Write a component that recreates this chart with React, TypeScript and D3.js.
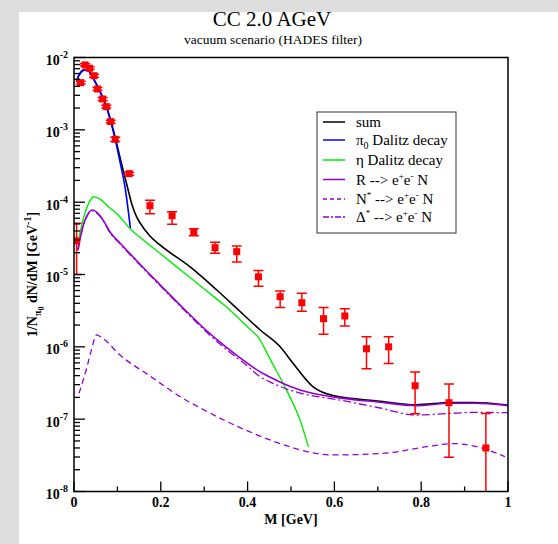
import React from "react";
import * as d3 from "d3";

// ---------- data ----------
const dataM = [0.006, 0.0154, 0.0253, 0.036, 0.046, 0.054, 0.066, 0.0745, 0.0845, 0.095, 0.127,
  0.175, 0.226, 0.276, 0.325, 0.375, 0.425, 0.475, 0.525, 0.575, 0.624, 0.674, 0.725, 0.786, 0.864, 0.949];
const dataV = [2.93e-5, 4.49e-3, 7.9e-3, 7.1e-3, 5.6e-3, 3.67e-3, 2.67e-3, 2.09e-3, 1.30e-3, 7.4e-4, 2.48e-4,
  8.93e-5, 6.5e-5, 3.9e-5, 2.35e-5, 2.07e-5, 9.3e-6, 4.93e-6, 4.07e-6, 2.45e-6, 2.67e-6, 9.4e-7, 1.0e-6, 2.9e-7, 1.69e-7, 4.0e-8];
const dataLo = [1.0e-5, 4.3e-3, 7.6e-3, 6.8e-3, 5.35e-3, 3.5e-3, 2.55e-3, 2.0e-3, 1.24e-3, 6.9e-4, 2.36e-4,
  6.9e-5, 4.94e-5, 3.44e-5, 1.96e-5, 1.49e-5, 6.9e-6, 3.5e-6, 3.1e-6, 1.49e-6, 1.94e-6, 4.99e-7, 5.9e-7, 1.19e-7, 2.97e-8, 5e-9];
const dataHi = [5.1e-5, 4.7e-3, 8.2e-3, 7.4e-3, 5.85e-3, 3.85e-3, 2.8e-3, 2.18e-3, 1.36e-3, 7.9e-4, 2.6e-4,
  1.06e-4, 7.4e-5, 4.3e-5, 2.79e-5, 2.48e-5, 1.14e-5, 5.9e-6, 5.5e-6, 3.5e-6, 3.37e-6, 1.38e-6, 1.38e-6, 4.5e-7, 3.06e-7, 1.2e-7];

const sumM = [0.006, 0.0115, 0.025, 0.0345, 0.046, 0.0576, 0.073, 0.0845, 0.096, 0.1075, 0.121, 0.133, 0.144, 0.152, 0.175, 0.198,
  0.267, 0.329, 0.379, 0.429, 0.475, 0.505, 0.551, 0.6, 0.62, 0.7, 0.789, 0.866, 0.92, 1.0];
const sumV = [4.6e-3, 5.7e-3, 6.8e-3, 6.5e-3, 5.0e-3, 3.65e-3, 2.28e-3, 1.36e-3, 7.4e-4, 3.8e-4, 1.82e-4, 9.5e-5, 6.3e-5, 5.2e-5, 3.4e-5, 2.56e-5,
  1.28e-5, 6.1e-6, 3.23e-6, 1.71e-6, 1.0e-6, 5.9e-7, 2.8e-7, 2.1e-7, 2.0e-7, 1.78e-7, 1.58e-7, 1.7e-7, 1.7e-7, 1.57e-7];

const pi0M = [0.006, 0.0115, 0.025, 0.0345, 0.046, 0.0576, 0.073, 0.0845, 0.096, 0.1075, 0.117, 0.13];
const pi0V = [4.6e-3, 5.7e-3, 6.7e-3, 6.4e-3, 4.9e-3, 3.56e-3, 2.21e-3, 1.3e-3, 6.9e-4, 3.27e-4, 1.7e-4, 4.33e-5];

const etaM = [0.0115, 0.025, 0.035, 0.046, 0.06, 0.08, 0.1, 0.131, 0.152, 0.2, 0.25, 0.3, 0.35, 0.4, 0.429, 0.45, 0.49, 0.521, 0.54];
const etaV = [3.3e-5, 7e-5, 1.0e-4, 1.19e-4, 1.1e-4, 8.6e-5, 6.8e-5, 4.2e-5, 3.27e-5, 1.92e-5, 1.1e-5, 6.3e-6, 3.6e-6, 1.88e-6, 1.24e-6, 7.1e-7, 2.5e-7, 9.7e-8, 4.16e-8];

const resM = [0.009, 0.02, 0.03, 0.042, 0.055, 0.07, 0.083, 0.106, 0.161, 0.2, 0.252, 0.302, 0.35, 0.4, 0.429, 0.45, 0.5, 0.521, 0.62, 0.7, 0.789, 0.866, 0.92, 1.0];
const resV = [2.18e-5, 4.5e-5, 6.5e-5, 7.8e-5, 7.0e-5, 5.3e-5, 3.87e-5, 2.73e-5, 1.22e-5, 7.05e-6, 3.41e-6, 1.75e-6, 9.95e-7, 5.9e-7, 4.5e-7, 3.85e-7, 2.8e-7, 2.53e-7, 1.94e-7, 1.73e-7, 1.54e-7, 1.66e-7, 1.66e-7, 1.54e-7];

const nstM = [0.0115, 0.03, 0.04, 0.052, 0.065, 0.106, 0.175, 0.25, 0.3, 0.35, 0.4, 0.45, 0.5, 0.521, 0.597, 0.713, 0.813, 0.874, 0.928, 0.993];
const nstV = [2.28e-7, 5.26e-7, 9.0e-7, 1.46e-6, 1.33e-6, 7.7e-7, 3.95e-7, 1.96e-7, 1.34e-7, 9.4e-8, 6.9e-8, 5.2e-8, 4.1e-8, 3.75e-8, 3.2e-8, 3.37e-8, 4.16e-8, 4.6e-8, 4.16e-8, 3.03e-8];

const delM = [0.009, 0.02, 0.03, 0.042, 0.055, 0.07, 0.083, 0.106, 0.161, 0.2, 0.252, 0.302, 0.35, 0.4, 0.429, 0.45, 0.5, 0.521, 0.62, 0.7, 0.789, 0.866, 0.92, 1.0];
const delV = [2.15e-5, 4.4e-5, 6.4e-5, 7.65e-5, 6.85e-5, 5.2e-5, 3.78e-5, 2.65e-5, 1.19e-5, 6.85e-6, 3.3e-6, 1.67e-6, 9.3e-7, 5.4e-7, 3.84e-7, 3.3e-7, 2.5e-7, 2.3e-7, 1.8e-7, 1.45e-7, 1.14e-7, 1.2e-7, 1.24e-7, 1.23e-7];

const xTicks = [0, 0.2, 0.4, 0.6, 0.8, 1];
const xTickLabels = ["0", "0.2", "0.4", "0.6", "0.8", "1"];
const yDecades = [-8, -7, -6, -5, -4, -3, -2];

const title = "CC 2.0 AGeV";
const subtitle = "vacuum scenario (HADES filter)";

// ---------- layout ----------
const W = 558, H = 544;
const L = 74, R = 508, T = 57.5, B = 491.5;
const serif = "Liberation Serif, DejaVu Serif, serif";
const purple = "#9400d3";

export default function App() {
  const x = d3.scaleLinear().domain([0, 1]).range([L, R]);
  const y = d3.scaleLog().domain([1e-8, 1e-2]).range([B, T]);

  const mk = (ms: number[], vs: number[]) =>
    d3.line<number>().x((_, i) => x(ms[i])).y((v) => y(v)).curve(d3.curveMonotoneX)(vs) || "";

  const curves = [
    { d: mk(sumM, sumV), color: "#000000", w: 1.6, dash: "" },
    { d: mk(pi0M, pi0V), color: "#0000ff", w: 1.6, dash: "" },
    { d: mk(etaM, etaV), color: "#00ee00", w: 1.4, dash: "" },
    { d: mk(resM, resV), color: purple, w: 1.6, dash: "" },
    { d: mk(nstM, nstV), color: purple, w: 1.3, dash: "6,4" },
    { d: mk(delM, delV), color: purple, w: 1.3, dash: "8,3,2,3" },
  ];

  const minorY: number[] = [];
  for (const k of yDecades) {
    if (k === -2) continue;
    for (let m = 2; m <= 9; m++) minorY.push(m * Math.pow(10, k));
  }
  const minorX = [0.1, 0.3, 0.5, 0.7, 0.9];

  const legend = [
    { color: "#000000", dash: "", label: <tspan>sum</tspan> },
    { color: "#0000ff", dash: "", label: <><tspan>π</tspan><tspan fontSize={10} dy={4}>0</tspan><tspan dy={-4}> Dalitz decay</tspan></> },
    { color: "#00ee00", dash: "", label: <tspan>η Dalitz decay</tspan> },
    { color: purple, dash: "", label: <><tspan>R --&gt; e</tspan><tspan fontSize={9} dy={-6}>+</tspan><tspan dy={6}>e</tspan><tspan fontSize={9} dy={-6}>-</tspan><tspan dy={6}> N</tspan></> },
    { color: purple, dash: "4,3", label: <><tspan>N</tspan><tspan fontSize={9} dy={-6}>*</tspan><tspan dy={6}> --&gt; e</tspan><tspan fontSize={9} dy={-6}>+</tspan><tspan dy={6}>e</tspan><tspan fontSize={9} dy={-6}>-</tspan><tspan dy={6}> N</tspan></> },
    { color: purple, dash: "6,2,2,2", label: <><tspan>Δ</tspan><tspan fontSize={9} dy={-6}>*</tspan><tspan dy={6}> --&gt; e</tspan><tspan fontSize={9} dy={-6}>+</tspan><tspan dy={6}>e</tspan><tspan fontSize={9} dy={-6}>-</tspan><tspan dy={6}> N</tspan></> },
  ];
  const legendY = [122, 140, 160, 179.5, 199, 217];

  return (
    <svg width={W} height={H} style={{ position: "absolute", left: 0, top: 0, fontFamily: serif }}>
      <rect x={0} y={0} width={W} height={H} fill="#dedede" />
      <rect x={19} y={12} width={W - 19} height={H - 12} fill="#ffffff" />
      <defs>
        <clipPath id="plotClip">
          <rect x={L} y={T} width={R - L} height={B - T} />
        </clipPath>
      </defs>

      <text x={272} y={26} textAnchor="middle" fontSize={21}>{title}</text>
      <text x={273} y={44} textAnchor="middle" fontSize={13.5}>{subtitle}</text>

      <g clipPath="url(#plotClip)">
        {curves.map((c, i) => (
          <path key={i} d={c.d} fill="none" stroke={c.color} strokeWidth={c.w} strokeDasharray={c.dash || undefined} />
        ))}
        {dataM.map((m, i) => {
          const cx = x(m);
          return (
            <g key={i} stroke="#ff0000" strokeWidth={1.5}>
              <line x1={cx} x2={cx} y1={y(dataLo[i])} y2={y(dataHi[i])} />
              <line x1={cx - 5} x2={cx + 5} y1={y(dataLo[i])} y2={y(dataLo[i])} />
              <line x1={cx - 5} x2={cx + 5} y1={y(dataHi[i])} y2={y(dataHi[i])} />
              <rect x={cx - 3.5} y={y(dataV[i]) - 3.5} width={7} height={7} fill="#ff0000" stroke="none" />
            </g>
          );
        })}
      </g>

      {/* ticks */}
      <g stroke="#000" strokeWidth={1.3}>
        {yDecades.map((k) => (
          <line key={"ym" + k} x1={L} x2={L + 11} y1={y(Math.pow(10, k))} y2={y(Math.pow(10, k))} />
        ))}
        {minorY.map((v, i) => (
          <line key={"yn" + i} x1={L} x2={L + 6} y1={y(v)} y2={y(v)} />
        ))}
        {xTicks.map((t) => (
          <line key={"xm" + t} x1={x(t)} x2={x(t)} y1={B} y2={B - 10} />
        ))}
        {minorX.map((t) => (
          <line key={"xn" + t} x1={x(t)} x2={x(t)} y1={B} y2={B - 5} />
        ))}
      </g>
      <rect x={L} y={T} width={R - L} height={B - T} fill="none" stroke="#000" strokeWidth={1.5} />

      {/* tick labels */}
      <g fontWeight="bold" fontSize={14}>
        {yDecades.map((k) => (
          <text key={"yl" + k} x={68} y={y(Math.pow(10, k)) + 7.5} textAnchor="end">
            <tspan>10</tspan>
            <tspan fontSize={10} dy={-7}>{String(k)}</tspan>
          </text>
        ))}
        {xTicks.map((t, i) => (
          <text key={"xl" + t} x={x(t)} y={507} textAnchor="middle">{xTickLabels[i]}</text>
        ))}
        <text x={(L + R) / 2} y={524} textAnchor="middle">M [GeV]</text>
        <text transform={`translate(37,${(T + B) / 2}) rotate(-90)`} textAnchor="middle">
          <tspan>1/N</tspan>
          <tspan fontSize={10} dy={4}>π</tspan>
          <tspan fontSize={8} dy={3}>0</tspan>
          <tspan dy={-7}> dN/dM [GeV</tspan>
          <tspan fontSize={10} dy={-6}>-1</tspan>
          <tspan dy={6}>]</tspan>
        </text>
      </g>

      {/* legend */}
      <rect x={317} y={112} width={139} height={121} fill="#fff" stroke="#333" strokeWidth={1} />
      {legend.map((e, i) => (
        <g key={"lg" + i}>
          <line x1={323} x2={345} y1={legendY[i]} y2={legendY[i]} stroke={e.color} strokeWidth={1.5} strokeDasharray={e.dash || undefined} />
          <text x={356} y={legendY[i] + 5} fontSize={15}>{e.label}</text>
        </g>
      ))}
    </svg>
  );
}
